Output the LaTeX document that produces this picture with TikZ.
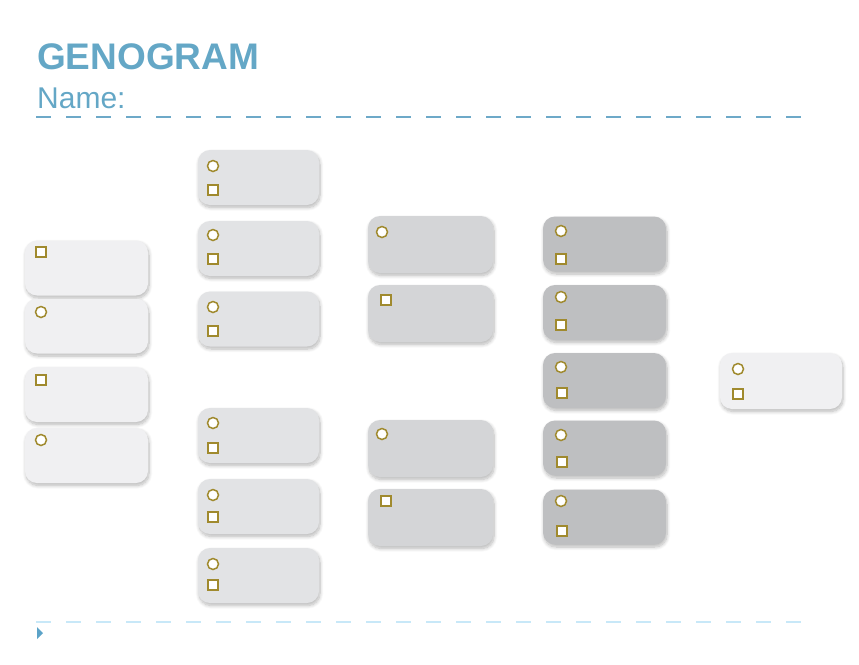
\documentclass[tikz,border=0pt]{standalone}
\usepackage{fontspec}
\setmainfont{Liberation Sans}
\usetikzlibrary{shadows.blur}
\definecolor{titleblue}{HTML}{64A7C6}
\definecolor{lineblue}{HTML}{6DA9C8}
\definecolor{paleblue}{HTML}{C8E8F8}
\definecolor{triblue}{HTML}{5CA3C8}
\definecolor{gold}{HTML}{A08A2E}
\definecolor{fillA}{HTML}{F0F0F2}
\definecolor{fillB}{HTML}{E2E3E5}
\definecolor{fillC}{HTML}{D4D5D7}
\definecolor{fillD}{HTML}{BEBFC1}
\tikzset{
  gbox/.style={rectangle, rounded corners=12pt, draw=none, minimum height=55pt, inner sep=0pt,
    blur shadow={shadow xshift=1pt, shadow yshift=-2.5pt, shadow blur steps=8, shadow opacity=28, shadow blur radius=3.5pt}},
  colA/.style={gbox, fill=fillA, minimum width=123pt},
  colB/.style={gbox, fill=fillB, minimum width=121pt},
  colC/.style={gbox, fill=fillC, minimum width=125pt, minimum height=57pt},
  colD/.style={gbox, fill=fillD, minimum width=123pt},
  colE/.style={gbox, fill=fillA, minimum width=122pt, minimum height=56pt},
  fem/.style={circle, draw=gold, fill=white, line width=1.5pt, minimum size=11pt, inner sep=0pt},
  mal/.style={rectangle, draw=gold, fill=white, line width=1.5pt, minimum size=10pt, inner sep=0pt},
  topdash/.style={draw=lineblue, line width=2pt, dash pattern=on 15pt off 15pt},
  botdash/.style={draw=paleblue, line width=2pt, dash pattern=on 15pt off 15pt},
}
\begin{document}
\begin{tikzpicture}[x=1pt,y=-1pt]
\useasboundingbox (0,0) rectangle (859,664);
% title
\node[anchor=base west, inner sep=0pt, text=titleblue, font=\fontsize{37}{40}\selectfont\bfseries] (title) at (37,69) {GENOGRAM};
\node[anchor=base west, inner sep=0pt, text=titleblue, font=\fontsize{30}{34}\selectfont] (name) at (37,108) {Name:};
\coordinate (tl) at (36,117); \coordinate (tr) at (805,117);
\draw[topdash] (tl) -- (tr);
\coordinate (bl) at (36,622); \coordinate (br) at (805,622);
\draw[botdash] (bl) -- (br);
\coordinate (t1) at (37,627); \coordinate (t2) at (43,633); \coordinate (t3) at (37,639);
\fill[triblue] (t1) -- (t2) -- (t3) -- cycle;

% column 1
\node[colA] (a1) at (86.5,268) {};
\node[colA] (a2) at (86.5,326) {};
\node[colA] (a3) at (86.5,394.5) {};
\node[colA] (a4) at (86.5,455.5) {};
\node[mal] (a1m) at (41,252) {};
\node[fem] (a2f) at (41,312) {};
\node[mal] (a3m) at (41,380) {};
\node[fem] (a4f) at (41,440) {};

% column 2
\node[colB] (b1) at (258.5,177.5) {};
\node[colB] (b2) at (258.5,248.5) {};
\node[colB] (b3) at (258.5,319) {};
\node[colB] (b4) at (258.5,435.5) {};
\node[colB] (b5) at (258.5,506.5) {};
\node[colB] (b6) at (258.5,575.5) {};
\node[fem] (b1f) at (213,166) {}; \node[mal] (b1m) at (213,190) {};
\node[fem] (b2f) at (213,235) {}; \node[mal] (b2m) at (213,259) {};
\node[fem] (b3f) at (213,307) {}; \node[mal] (b3m) at (213,331) {};
\node[fem] (b4f) at (213,423) {}; \node[mal] (b4m) at (213,448) {};
\node[fem] (b5f) at (213,495) {}; \node[mal] (b5m) at (213,517) {};
\node[fem] (b6f) at (213,564) {}; \node[mal] (b6m) at (213,585) {};

% column 3
\node[colC] (c1) at (430.5,244.5) {};
\node[colC] (c2) at (430.5,313.5) {};
\node[colC] (c3) at (430.5,448.5) {};
\node[colC] (c4) at (430.5,517.5) {};
\node[fem] (c1f) at (382,232) {};
\node[mal] (c2m) at (386,300) {};
\node[fem] (c3f) at (382,434) {};
\node[mal] (c4m) at (386,501) {};

% column 4
\node[colD] (d1) at (604.5,244) {};
\node[colD] (d2) at (604.5,312.5) {};
\node[colD] (d3) at (604.5,380.5) {};
\node[colD] (d4) at (604.5,448) {};
\node[colD] (d5) at (604.5,517) {};
\node[fem] (d1f) at (561,231) {}; \node[mal] (d1m) at (561,259) {};
\node[fem] (d2f) at (561,297) {}; \node[mal] (d2m) at (561,325) {};
\node[fem] (d3f) at (561,367) {}; \node[mal] (d3m) at (562,393) {};
\node[fem] (d4f) at (561,435) {}; \node[mal] (d4m) at (562,462) {};
\node[fem] (d5f) at (561,501) {}; \node[mal] (d5m) at (562,531) {};

% column 5
\node[colE] (e1) at (781,381) {};
\node[fem] (e1f) at (738,369) {}; \node[mal] (e1m) at (738,394) {};
\end{tikzpicture}
\end{document}
